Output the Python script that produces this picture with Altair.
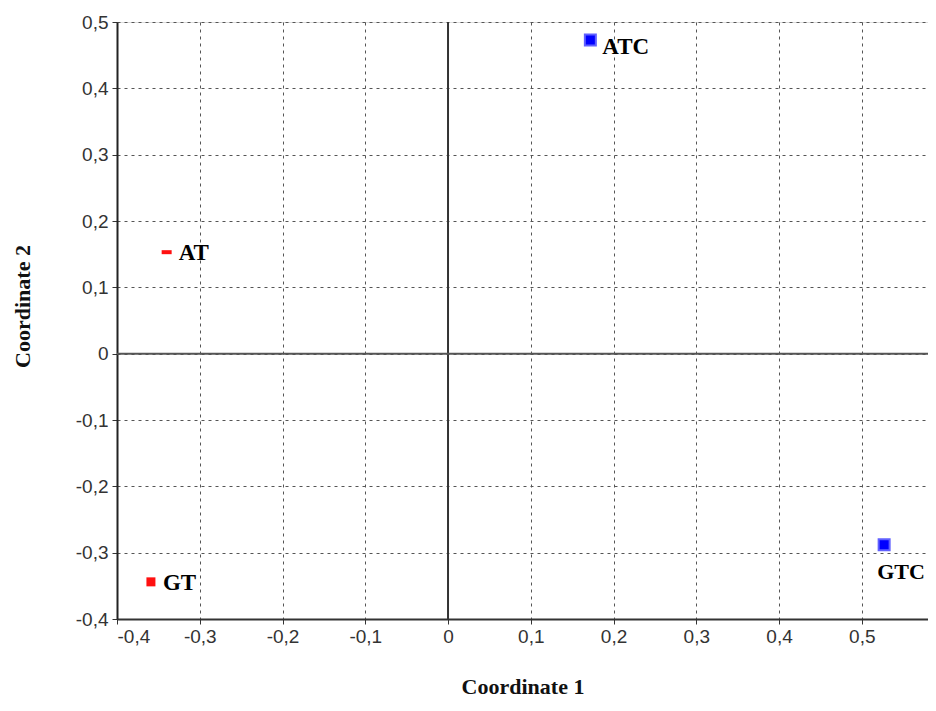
import altair as alt
import pandas as pd

labels = ["AT", "GT", "ATC", "GTC"]
coord1 = [-0.340, -0.359, 0.172, 0.527]
coord2 = [0.153, -0.344, 0.473, -0.288]
group = ["red", "red", "blue", "blue"]

x_ticks = [-0.4, -0.3, -0.2, -0.1, 0, 0.1, 0.2, 0.3, 0.4, 0.5]
y_ticks = [-0.4, -0.3, -0.2, -0.1, 0, 0.1, 0.2, 0.3, 0.4, 0.5]

df = pd.DataFrame({"label": labels, "c1": coord1, "c2": coord2, "group": group})

tick_font = "Liberation Sans Narrow, Liberation Sans, sans-serif"
serif = "Liberation Serif, Times New Roman, serif"
label_expr = "replace(toString(datum.value), '.', ',')"

x_enc = alt.X(
    "c1:Q",
    scale=alt.Scale(domain=[-0.4, 0.58], nice=False, zero=False),
    axis=alt.Axis(
        values=x_ticks, labelExpr=label_expr, grid=True, gridDash=[3, 4],
        gridColor="#555555", gridWidth=1, domainColor="#333333", domainWidth=2,
        tickColor="#333333", tickSize=5, tickWidth=1, labelFont=tick_font,
        labelFontSize=19, labelColor="#333333", labelPadding=3,
        title="Coordinate 1", titleFont=serif, titleFontSize=22,
        titleFontWeight="bold", titleColor="#111111", titleY=74,
        titleBaseline="alphabetic",
    ),
)
y_enc = alt.Y(
    "c2:Q",
    scale=alt.Scale(domain=[-0.4, 0.5], nice=False, zero=False),
    axis=alt.Axis(
        values=y_ticks, labelExpr=label_expr, grid=True, gridDash=[3, 4],
        gridColor="#555555", gridWidth=1, domainColor="#222222", domainWidth=2,
        tickColor="#333333", tickSize=5, tickWidth=1, labelFont=tick_font,
        labelFontSize=19, labelColor="#333333", labelPadding=4,
        title="Coordinate 2", titleFont=serif, titleFontSize=22,
        titleFontWeight="bold", titleColor="#111111", titleX=-95, titleY=284,
        titleAlign="center", titleBaseline="middle",
    ),
)

base = alt.Chart(df)

zero_v = alt.Chart(pd.DataFrame({"v": [0]})).mark_rule(color="#333333", strokeWidth=2).encode(x="v:Q")
zero_h = alt.Chart(pd.DataFrame({"v": [0]})).mark_rule(color="#555555", strokeWidth=2).encode(y="v:Q")

points_frame = base.mark_point(opacity=0).encode(x=x_enc, y=y_enc)

at_mark = base.transform_filter("datum.label == 'AT'").mark_point(
    shape="M-1,-0.4L1,-0.4L1,0.4L-1,0.4Z", size=100, filled=True, color="#ff1010", opacity=1
).encode(x="c1:Q", y="c2:Q")
gt_mark = base.transform_filter("datum.label == 'GT'").mark_point(
    shape="square", size=81, filled=True, color="#ff1010", opacity=1
).encode(x="c1:Q", y="c2:Q")
blue_mark = base.transform_filter("datum.group == 'blue'").mark_point(
    shape="square", size=121, filled=True, fill="#0000ff", stroke="#6060ff",
    strokeWidth=2, opacity=1
).encode(x="c1:Q", y="c2:Q")

txt_kw = dict(font=serif, fontWeight="bold", color="#000000", align="left", baseline="middle")
txt_a = base.transform_filter("datum.label == 'AT' || datum.label == 'GT'").mark_text(dx=12, dy=1, fontSize=23, **txt_kw).encode(x="c1:Q", y="c2:Q", text="label:N")
txt_b = base.transform_filter("datum.label == 'ATC'").mark_text(dx=12, dy=7, fontSize=23, **txt_kw).encode(x="c1:Q", y="c2:Q", text="label:N")
txt_c = base.transform_filter("datum.label == 'GTC'").mark_text(dx=-7, dy=27, fontSize=22, **txt_kw).encode(x="c1:Q", y="c2:Q", text="label:N")

chart = alt.layer(
    points_frame, zero_v, zero_h, at_mark, gt_mark, blue_mark, txt_a, txt_b, txt_c
).properties(
    width=811, height=597,
    autosize=alt.AutoSizeParams(type="none"),
    padding={"left": 109, "top": 14, "right": 0, "bottom": 80},
).configure_view(stroke=None).configure(background="white")

chart.save("out.html", embed_options={"renderer": "svg", "actions": False})
